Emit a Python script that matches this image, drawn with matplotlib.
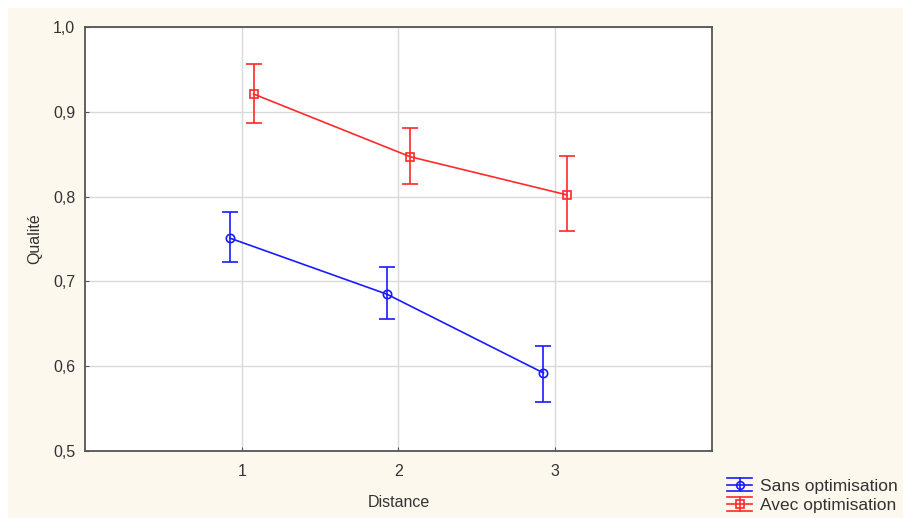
import matplotlib
matplotlib.use("Agg")
import matplotlib.pyplot as plt
from matplotlib.patches import Rectangle
from matplotlib.lines import Line2D
from matplotlib.legend_handler import HandlerBase
from matplotlib.ticker import FuncFormatter

plt.rcParams["font.family"] = ["Liberation Sans", "DejaVu Sans"]

distance = [1, 2, 3]
sans_mean = [0.751, 0.685, 0.592]
sans_low = [0.723, 0.656, 0.558]
sans_high = [0.782, 0.717, 0.624]
avec_mean = [0.921, 0.847, 0.802]
avec_low = [0.887, 0.815, 0.759]
avec_high = [0.956, 0.881, 0.848]
series_labels = ["Sans optimisation", "Avec optimisation"]
x_ticks = [1, 2, 3]
y_ticks = [0.5, 0.6, 0.7, 0.8, 0.9, 1.0]

BLUE = "#1a1aff"
RED = "#ff2a2a"
TEXT = "#333333"
OFFSET = 0.075


class ErrKey(HandlerBase):
    """Legend key drawn like the source: cap lines above/below, marker line in the middle."""

    def __init__(self, color, marker):
        super().__init__()
        self.color = color
        self.marker = marker

    def create_artists(self, legend, orig, xd, yd, width, height, fontsize, trans):
        mid = height / 2 - yd
        gap = height * 0.5
        x0, x1 = -xd, width - xd
        cx = (x0 + x1) / 2
        arts = [Line2D([x0, x1], [y, y], color=self.color, lw=1.2)
                for y in (mid - gap, mid, mid + gap)]
        arts.append(Line2D([cx, cx], [mid - gap, mid + gap], color=self.color, lw=1.2))
        arts.append(Line2D([cx], [mid], color=self.color, marker=self.marker, markersize=5.5,
                           markerfacecolor="none", markeredgewidth=1.2))
        for a in arts:
            a.set_transform(trans)
        return arts


fig = plt.figure(figsize=(9.04, 5.18), dpi=100, facecolor="white")
# cream panel behind the chart
fig.patches.append(Rectangle((8 / 904, 0), 1, 1 - 8 / 518, transform=fig.transFigure,
                             facecolor="#fdf8ee", edgecolor="none", zorder=-10))

ax = fig.add_axes([85 / 904, 67 / 518, 627 / 904, 424 / 518])
ax.set_facecolor("white")

def draw(offset, mean, low, high, color, marker, label):
    xs = [d + offset for d in distance]
    err = [[m - lo for m, lo in zip(mean, low)], [hi - m for m, hi in zip(mean, high)]]
    return ax.errorbar(xs, mean, yerr=err, color=color, marker=marker, markersize=6,
                       markerfacecolor="none", markeredgewidth=1.2, linewidth=1.2,
                       elinewidth=1.2, capsize=6, capthick=1.2, label=label, zorder=3)

h1 = draw(-OFFSET, sans_mean, sans_low, sans_high, BLUE, "o", series_labels[0])
h2 = draw(OFFSET, avec_mean, avec_low, avec_high, RED, "s", series_labels[1])

ax.set_xlim(0, 4)
ax.set_ylim(0.5, 1.0)
ax.set_xticks(x_ticks)
ax.set_yticks(y_ticks)
ax.yaxis.set_major_formatter(FuncFormatter(lambda v, p: f"{v:.1f}".replace(".", ",")))
ax.grid(True, color="#d9d9d9", linewidth=1)
ax.set_axisbelow(True)
for s in ax.spines.values():
    s.set_color("#555555")
    s.set_linewidth(1.3)
ax.tick_params(axis="both", labelsize=11.5, labelcolor=TEXT, color="#555555",
               length=3, direction="in")
ax.tick_params(axis="y", pad=7)
ax.tick_params(axis="x", pad=9)
ax.set_xlabel("Distance", fontsize=11.5, color=TEXT, labelpad=12)
ax.set_ylabel("Qualité", fontsize=11.5, color=TEXT, labelpad=8)

fig.legend(handles=[h1, h2], labels=series_labels,
           handler_map={h1: ErrKey(BLUE, "o"), h2: ErrKey(RED, "s")},
           loc="upper left", bbox_to_anchor=(727 / 904, 1 - 478 / 518),
           frameon=False, fontsize=12.5, handlelength=1.45, handleheight=0.8,
           handletextpad=0.45, labelspacing=0.22, borderpad=0, borderaxespad=0,
           labelcolor=TEXT)

fig.savefig("out.png", dpi=100, facecolor="white")
